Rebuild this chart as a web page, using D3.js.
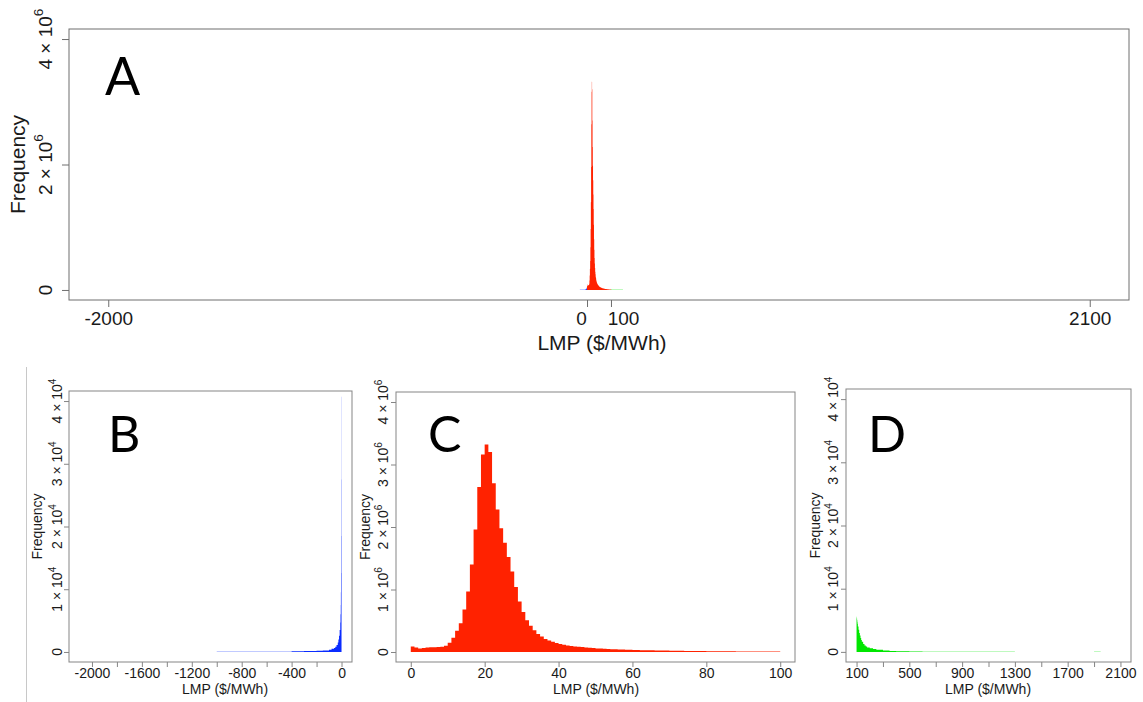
<!DOCTYPE html>
<html>
<head>
<meta charset="utf-8">
<script src="https://cdn.jsdelivr.net/npm/d3@7"></script>
<style>
  body { margin: 0; background: #fff; }
  svg text { font-family: "Liberation Sans", Arial, sans-serif; fill: #1a1a1a; }
  .letter { font-family: Lato, "Open Sans", sans-serif !important; fill: #000 !important; }
</style>
</head>
<body>
<div id="chart"></div>
<script>
const W = 1143, H = 702;

// LMP histogram, 1 $/MWh bins from 0 to 100 (panel C, red)
const posLmpStart = 0;
const posFreq = [
  90000, 74000, 58000, 63000, 72000, 75000, 78000, 80000, 85000, 100000,
  150000, 230000, 340000, 460000, 680000, 970000, 1400000, 1960000, 2640000, 3160000,
  3320000, 3200000, 2700000, 2280000, 1980000, 1750000, 1520000, 1290000, 1040000, 810000,
  640000, 510000, 420000, 350000, 290000, 250000, 210000, 185000, 164000, 143000,
  127000, 116000, 106000, 95000, 90000, 85000, 80000, 74000, 69000, 63000,
  58000, 55000, 52000, 49000, 46000, 44000, 42000, 40000, 38000, 36000,
  34000, 32000, 30000, 29000, 28000, 27000, 26000, 25000, 24000, 23000,
  22000, 21000, 20000, 19000, 18000, 17000, 16500, 16000, 15500, 15000,
  14000, 13500, 13000, 12500, 12000, 11500, 11000, 10500, 10000, 9500,
  9000, 8700, 8400, 8100, 7800, 7500, 7200, 6900, 6600, 6300
];

// negative LMP (panel B, blue): bin edges and per-$/MWh frequency
const negEdges = [-2000, -1900, -1600, -1200, -1000, -800, -600, -400, -300, -200, -150, -100,
  -80, -60, -50, -40, -30, -25, -20, -15, -10, -8, -6, -5, -4, -3, -2, -1, 0];
const negFreq = [8, 0, 4, 6, 15, 25, 50, 100, 140, 200, 250,
  350, 500, 650, 850, 1100, 1500, 2000, 2600, 3500, 4700,
  6000, 7500, 9500, 12600, 18500, 27500, 40700];

// LMP above 100 (panel D, green)
const highEdges = [100, 101, 102, 104, 106, 108, 110, 115, 120, 125, 130, 135, 140, 150, 160, 170,
  180, 200, 225, 250, 300, 350, 400, 500, 600, 800, 1000, 1300, 1900, 1950, 2000];
const highFreq = [5600, 5500, 5300, 5000, 4700, 4400, 4000, 3500, 3000, 2600, 2200, 1900,
  1600, 1250, 1000, 850, 700, 560, 460, 340, 230, 160, 100, 60, 35, 20, 10, 0, 8, 0];

const colRed = '#ff2200', colBlue = '#0a2cff', colGreen = '#00e600';

// step points: each bin's left edge with its height, then the last right edge
function steps(edges, freq) {
  return edges.map((e, i) => ({x: e, f: i < freq.length ? freq[i] : freq[freq.length - 1]}));
}
const redSteps = steps(posFreq.map((f, i) => posLmpStart + i).concat(posLmpStart + posFreq.length), posFreq);
const blueSteps = steps(negEdges, negFreq);
const greenSteps = steps(highEdges, highFreq);

const svg = d3.select('#chart').append('svg')
  .attr('width', W).attr('height', H);

// separator line between the two rows
svg.append('line')
  .attr('x1', 26.5).attr('x2', 26.5).attr('y1', 367).attr('y2', H)
  .attr('stroke', '#c8c8c8');

function sciLabel(text, d, fs) {
  if (d === 0) { text.text('0'); return; }
  const e = Math.floor(Math.log10(d) + 1e-9);
  const m = Math.round(d / Math.pow(10, e));
  text.append('tspan').text(`${m} \u00d7 10`);
  text.append('tspan').attr('dy', -0.45 * fs).attr('font-size', fs * 0.72).text(e);
}

function drawPanel(cfg) {
  const g = svg.append('g');
  if (cfg.clip) {
    svg.append('clipPath').attr('id', 'clip' + cfg.letter)
      .append('rect').attr('x', cfg.clip).attr('y', 0).attr('width', W).attr('height', H);
    g.attr('clip-path', `url(#clip${cfg.letter})`);
  }
  const [x0, x1] = cfg.xlim, dx = (x1 - x0) * 0.04;
  const [y0, y1] = cfg.ylim, dy = (y1 - y0) * 0.04;
  const x = d3.scaleLinear().domain([x0 - dx, x1 + dx]).range([cfg.left, cfg.right]);
  const y = d3.scaleLinear().domain([y0 - dy, y1 + dy]).range([cfg.bottom, cfg.top]);

  // histogram bars, drawn as one stepped area per series
  const area = d3.area()
    .curve(d3.curveStepAfter)
    .x(d => x(d.x))
    .y0(y(0))
    .y1(d => y(d.f));
  cfg.series.forEach(s => {
    g.append('path')
      .datum(s.steps)
      .attr('d', area)
      .attr('fill', s.color);
  });

  // x axis
  const xa = g.append('g')
    .attr('transform', `translate(0,${cfg.bottom})`)
    .call(d3.axisBottom(x).tickValues(cfg.xTicks).tickSize(cfg.tick)
      .tickFormat(d => cfg.xLabels.includes(d) ? d : ''));
  xa.select('.domain').remove();
  xa.selectAll('line').attr('stroke', cfg.stroke);
  xa.selectAll('text')
    .attr('y', cfg.xLabelY - cfg.bottom).attr('dy', null)
    .attr('x', d => (cfg.xLabelShift && cfg.xLabelShift[d]) || 0)
    .attr('font-size', cfg.fs).attr('fill', '#1a1a1a')
    .style('font-family', '"Liberation Sans", Arial, sans-serif');

  // y axis
  const ya = g.append('g')
    .attr('transform', `translate(${cfg.left},0)`)
    .call(d3.axisLeft(y).tickValues(cfg.yTicks).tickSize(cfg.tick).tickFormat(''));
  ya.select('.domain').remove();
  ya.selectAll('line').attr('stroke', cfg.stroke);
  cfg.yTicks.forEach(v => {
    const t = g.append('text')
      .attr('transform', `translate(${cfg.yLabelX},${y(v)}) rotate(-90)`)
      .attr('text-anchor', 'middle')
      .attr('font-size', cfg.fs);
    sciLabel(t, v, cfg.fs);
  });

  // box
  g.append('rect')
    .attr('x', cfg.left).attr('y', cfg.top)
    .attr('width', cfg.right - cfg.left).attr('height', cfg.bottom - cfg.top)
    .attr('fill', 'none').attr('stroke', cfg.stroke);

  // titles
  g.append('text')
    .attr('x', cfg.xTitleX).attr('y', cfg.xTitleY)
    .attr('text-anchor', 'middle').attr('font-size', cfg.titleFs)
    .text('LMP ($/MWh)');
  g.append('text')
    .attr('transform', `translate(${cfg.yTitleX},${(y(y0) + y(y1)) / 2}) rotate(-90)`)
    .attr('text-anchor', 'middle').attr('font-size', cfg.titleFs)
    .text('Frequency');

  g.append('text')
    .attr('class', 'letter')
    .attr('x', cfg.letterX).attr('y', cfg.letterY)
    .attr('font-size', cfg.letterFs)
    .text(cfg.letter);
}

drawPanel({
  letter: 'A', left: 69, right: 1129, top: 29, bottom: 300,
  xlim: [-2000, 2100], ylim: [0, 4e6],
  xTicks: [-2000, 0, 100, 2100], xLabels: [-2000, 0, 100, 2100],
  xLabelShift: {0: -6, 100: 12},
  yTicks: [0, 2e6, 4e6],
  series: [{steps: blueSteps, color: colBlue}, {steps: redSteps, color: colRed}, {steps: greenSteps, color: colGreen}],
  tick: 7, fs: 19, titleFs: 21, stroke: '#6e6e6e',
  xLabelY: 325, xTitleX: 602, xTitleY: 350, yLabelX: 52, yTitleX: 25,
  letterX: 105, letterY: 95, letterFs: 52
});

drawPanel({
  letter: 'B', left: 69, right: 352, top: 391, bottom: 662,
  xlim: [-2100, 0], ylim: [0, 4e4],
  xTicks: [-2000, -1800, -1600, -1400, -1200, -1000, -800, -600, -400, -200, 0],
  xLabels: [-2000, -1600, -1200, -800, -400, 0],
  yTicks: [0, 1e4, 2e4, 3e4, 4e4],
  series: [{steps: blueSteps, color: colBlue}],
  tick: 5, fs: 14, titleFs: 14, stroke: '#858585',
  xLabelY: 678, xTitleX: 225, xTitleY: 694, yLabelX: 62, yTitleX: 42,
  letterX: 108, letterY: 452, letterFs: 50
});

drawPanel({
  letter: 'C', left: 396, right: 795, top: 392, bottom: 662, clip: 359,
  xlim: [0, 100], ylim: [0, 4e6],
  xTicks: [0, 20, 40, 60, 80, 100], xLabels: [0, 20, 40, 60, 80, 100],
  yTicks: [0, 1e6, 2e6, 3e6, 4e6],
  series: [{steps: redSteps, color: colRed}],
  tick: 5, fs: 14, titleFs: 14, stroke: '#858585',
  xLabelY: 678, xTitleX: 596, xTitleY: 694, yLabelX: 388, yTitleX: 370,
  letterX: 428, letterY: 452, letterFs: 50
});

drawPanel({
  letter: 'D', left: 846, right: 1131, top: 389, bottom: 662,
  xlim: [100, 2100], ylim: [0, 4e4],
  xTicks: [100, 300, 500, 700, 900, 1100, 1300, 1500, 1700, 1900, 2100],
  xLabels: [100, 500, 900, 1300, 1700, 2100],
  yTicks: [0, 1e4, 2e4, 3e4, 4e4],
  series: [{steps: greenSteps, color: colGreen}],
  tick: 5, fs: 14, titleFs: 14, stroke: '#858585',
  xLabelY: 678, xTitleX: 988, xTitleY: 694, yLabelX: 838, yTitleX: 820,
  letterX: 868, letterY: 452, letterFs: 50
});
</script>
</body>
</html>
